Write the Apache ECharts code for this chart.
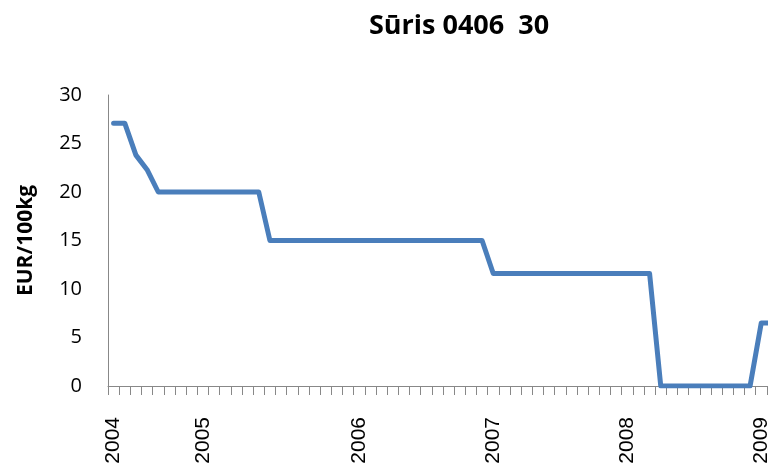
<!DOCTYPE html>
<html>
<head>
<meta charset="utf-8">
<script src="https://cdn.jsdelivr.net/npm/echarts@6/dist/echarts.min.js"></script>
<style>
  html, body { margin: 0; padding: 0; background: #fff; overflow: hidden; }
  /* the chart is a bit wider than the window: the original is cut at the right edge */
  #main { width: 800px; height: 468px; }
</style>
</head>
<body>
<div id="main"></div>
<script>
// one point per category, year label only where the year starts
var yearLabels = ['2004', '', '', '', '', '', '', '', '2005', '', '', '', '', '', '', '', '', '', '', '', '', '', '2006', '', '', '', '', '', '', '', '', '', '', '', '2007', '', '', '', '', '', '', '', '', '', '', '', '2008', '', '', '', '', '', '', '', '', '', '', '', '2009', ''];
var prices = [27.1, 27.1, 23.8, 22.3, 20, 20, 20, 20, 20, 20, 20, 20, 20, 20,
  15, 15, 15, 15, 15, 15, 15, 15, 15, 15, 15, 15, 15, 15, 15, 15, 15, 15, 15, 15,
  11.6, 11.6, 11.6, 11.6, 11.6, 11.6, 11.6, 11.6, 11.6, 11.6, 11.6, 11.6, 11.6, 11.6, 11.6,
  0, 0, 0, 0, 0, 0, 0, 0, 0, 6.5, 6.5];
var yTicks = { min: 0, max: 30, step: 5 };

var myChart = echarts.init(document.getElementById('main'));
var option = {
    animation: false,
    title: {
        text: 'Sūris 0406  30',
        left: 454,
        textAlign: 'center',
        top: 8,
        textStyle: { fontFamily: 'Open Sans', fontWeight: 'bold', fontSize: 27, color: '#000' }
    },
    grid: {
        left: 108,
        top: 95,
        width: 670,
        height: 291,
        containLabel: false
    },
    xAxis: {
        type: 'category',
        boundaryGap: true,
        data: yearLabels,
        axisLine: { lineStyle: { color: '#888', width: 1 } },
        axisTick: { show: true, interval: 0, length: 9, lineStyle: { color: '#888' } },
        axisLabel: {
            interval: 0,
            rotate: 90,
            margin: 31,
            color: '#000',
            fontFamily: 'Liberation Sans',
            fontSize: 21
        }
    },
    yAxis: {
        type: 'value',
        min: yTicks.min,
        max: yTicks.max,
        interval: yTicks.step,
        name: 'EUR/100kg',
        nameLocation: 'middle',
        nameGap: 71,
        nameTextStyle: { fontFamily: 'Open Sans', fontWeight: 'bold', fontSize: 21, color: '#000' },
        axisLine: { show: true, lineStyle: { color: '#888', width: 1 } },
        axisTick: { show: false },
        splitLine: { show: false },
        axisLabel: { margin: 26, color: '#000', fontFamily: 'Open Sans', fontSize: 20 }
    },
    series: [
        {
            name: 'Sūris',
            type: 'line',
            data: prices,
            showSymbol: false,
            symbol: 'none',
            lineStyle: { color: '#4a7ebb', width: 5, join: 'round', cap: 'round' }
        }
    ]
};
myChart.setOption(option);
</script>
</body>
</html>
